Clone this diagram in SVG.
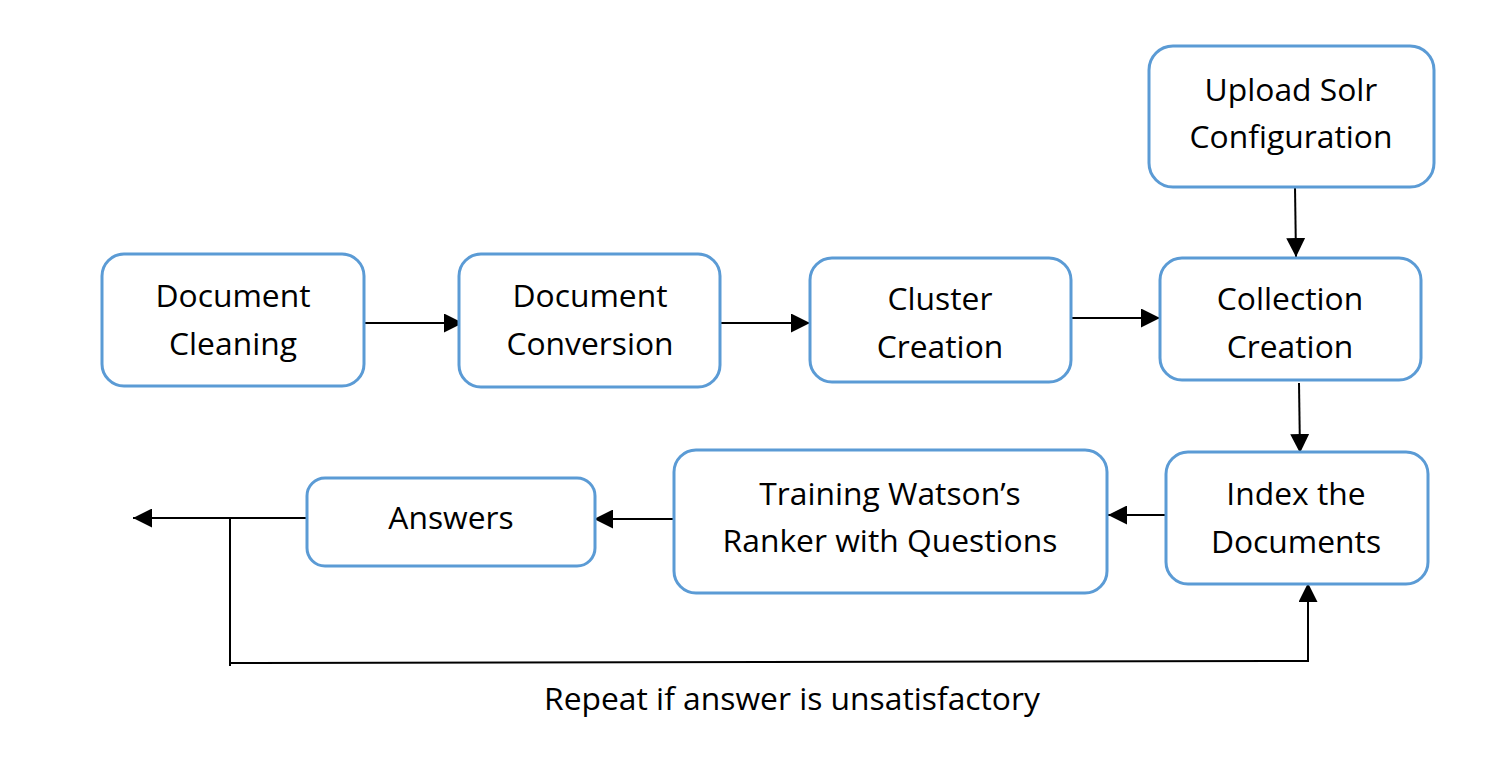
<svg xmlns="http://www.w3.org/2000/svg" width="1512" height="772" viewBox="0 0 1512 772">
<style>
.box{fill:#fff;stroke:#5B9BD5;stroke-width:3}
.t{font-family:"Open Sans","Liberation Sans",sans-serif;font-size:31.8px;fill:#000;text-anchor:middle}
.c{stroke:#000;stroke-width:2;fill:none}
</style>
<defs>
<marker id="ah2" viewBox="0 0 10 10" refX="10" refY="5" markerWidth="19" markerHeight="19" markerUnits="userSpaceOnUse" orient="auto">
<path d="M0,0 L10,5 L0,10 Z" fill="#000"/>
</marker>
</defs>
<rect width="1512" height="772" fill="#fff"/>
<g id="connectors">
<line class="c" x1="364" y1="323" x2="463" y2="323" marker-end="url(#ah2)"/>
<line class="c" x1="720" y1="323" x2="810" y2="323" marker-end="url(#ah2)"/>
<line class="c" x1="1071" y1="318" x2="1160" y2="318" marker-end="url(#ah2)"/>
<line class="c" x1="1295" y1="187" x2="1296" y2="257" marker-end="url(#ah2)"/>
<line class="c" x1="1299" y1="383" x2="1300" y2="453" marker-end="url(#ah2)"/>
<line class="c" x1="1170" y1="515" x2="1108" y2="515" marker-end="url(#ah2)"/>
<line class="c" x1="674" y1="519" x2="594" y2="519" marker-end="url(#ah2)"/>
<line class="c" x1="310" y1="518" x2="133" y2="518" marker-end="url(#ah2)"/>
<line class="c" x1="230" y1="518" x2="230" y2="666"/>
<line class="c" x1="229" y1="663" x2="1309" y2="661"/>
<line class="c" x1="1308" y1="662" x2="1308" y2="583" marker-end="url(#ah2)"/>
</g>
<g id="n1"><rect class="box" x="102" y="254" width="262" height="132" rx="22"/><text class="t" x="233" y="307">Document</text><text class="t" x="233" y="355">Cleaning</text></g>
<g id="n2"><rect class="box" x="459" y="254" width="261" height="133" rx="22"/><text class="t" x="590" y="307">Document</text><text class="t" x="590" y="355">Conversion</text></g>
<g id="n3"><rect class="box" x="810" y="258" width="261" height="124" rx="22"/><text class="t" x="940" y="310">Cluster</text><text class="t" x="940" y="358">Creation</text></g>
<g id="n4"><rect class="box" x="1160" y="258" width="261" height="122" rx="22"/><text class="t" x="1290" y="310">Collection</text><text class="t" x="1290" y="358">Creation</text></g>
<g id="n5"><rect class="box" x="1149" y="46" width="285" height="141" rx="24"/><text class="t" x="1291" y="101">Upload Solr</text><text class="t" x="1291" y="148">Configuration</text></g>
<g id="n6"><rect class="box" x="1166" y="452" width="262" height="132" rx="22"/><text class="t" x="1296" y="505">Index the</text><text class="t" x="1296" y="553">Documents</text></g>
<g id="n7"><rect class="box" x="674" y="450" width="433" height="143" rx="22"/><text class="t" x="890" y="505">Training Watson’s</text><text class="t" x="890" y="552">Ranker with Questions</text></g>
<g id="n8"><rect class="box" x="307" y="478" width="288" height="88" rx="18"/><text class="t" x="451" y="529">Answers</text></g>
<text class="t" x="792" y="710">Repeat if answer is unsatisfactory</text>
</svg>
